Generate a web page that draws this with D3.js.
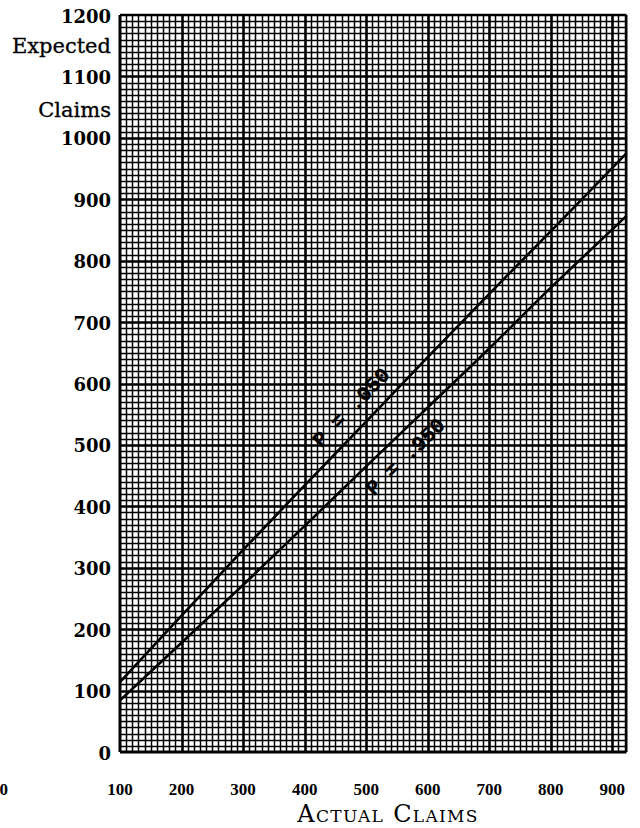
<!DOCTYPE html>
<html>
<head>
<meta charset="utf-8">
<script src="https://cdn.jsdelivr.net/npm/d3@7"></script>
<style>
  html, body { margin: 0; padding: 0; background: #fff; }
  svg { display: block; }
</style>
</head>
<body>
<div id="chart"></div>
<script>
// values
const actualClaims = [100, 200, 300, 400, 500, 600, 700, 800, 900, 923];
const expectedP050 = [114, 222, 329, 434, 538, 643, 746, 848, 951, 975];
const expectedP950 = [84, 178, 272, 368, 465, 561, 657, 756, 851, 873];
const xTicks = [100, 200, 300, 400, 500, 600, 700, 800, 900];
const yTicks = [0, 100, 200, 300, 400, 500, 600, 700, 800, 900, 1000, 1100, 1200];
const lineLabels = ['P = .050', 'P = .950'];
const labelStart = [443, 482];

const width = 640, height = 828;
const svg = d3.select('#chart').append('svg')
  .attr('width', width)
  .attr('height', height);

const x = d3.scaleLinear().domain([100, 923]).range([120, 626.5]);
const y = d3.scaleLinear().domain([0, 1200]).range([752, 15]);

// graph paper
const grid = svg.append('g').attr('stroke', '#000');
const gw = v => v % 100 === 0 ? 2.6 : 1.5;
const snap = v => Math.round(v) + 0.5;

grid.selectAll('line.v')
  .data(d3.range(110, 921, 10))
  .join('line')
  .attr('x1', d => snap(x(d))).attr('x2', d => snap(x(d)))
  .attr('y1', y(0)).attr('y2', y(1200))
  .attr('stroke-width', gw);

grid.selectAll('line.h')
  .data(d3.range(10, 1200, 10))
  .join('line')
  .attr('x1', x(100)).attr('x2', x(923))
  .attr('y1', d => snap(y(d))).attr('y2', d => snap(y(d)))
  .attr('stroke-width', gw);

// frame
svg.append('line').attr('x1', x(100)).attr('x2', x(100)).attr('y1', y(0)).attr('y2', y(1200))
  .attr('stroke', '#000').attr('stroke-width', 3);
svg.append('line').attr('x1', x(100)).attr('x2', x(923)).attr('y1', y(0)).attr('y2', y(0))
  .attr('stroke', '#000').attr('stroke-width', 3);
svg.append('line').attr('x1', x(100)).attr('x2', x(923)).attr('y1', y(1200)).attr('y2', y(1200))
  .attr('stroke', '#000').attr('stroke-width', 2.5);
svg.append('line').attr('x1', x(923)).attr('x2', x(923)).attr('y1', y(0)).attr('y2', y(1200))
  .attr('stroke', '#000').attr('stroke-width', 2);

// the two P lines
const series = [expectedP050, expectedP950];
const line = d3.line()
  .x((d, i) => x(actualClaims[i]))
  .y(d => y(d))
  .curve(d3.curveMonotoneX);

svg.selectAll('path.p')
  .data(series)
  .join('path')
  .attr('fill', 'none')
  .attr('stroke', '#000')
  .attr('stroke-width', 2.6)
  .attr('d', line);

// labels along the lines
const bis = d3.bisector(d => d).left;
function along(vals, a) {
  const i = Math.max(1, bis(actualClaims, a));
  const a0 = actualClaims[i - 1], a1 = actualClaims[i];
  const t = (a - a0) / (a1 - a0);
  const px = x(a), py = y(vals[i - 1] + t * (vals[i] - vals[i - 1]));
  const ang = Math.atan2(y(vals[i]) - y(vals[i - 1]), x(a1) - x(a0)) * 180 / Math.PI;
  return [px, py, ang];
}
const labelDy = [-14, 27];
const mono = '"Liberation Mono", "DejaVu Sans Mono", monospace';
series.forEach((vals, k) => {
  const [px, py, ang] = along(vals, labelStart[k]);
  svg.append('text')
    .attr('transform', `translate(${px},${py}) rotate(${ang})`)
    .attr('dy', labelDy[k])
    .attr('font-family', mono)
    .attr('font-weight', 'bold')
    .attr('font-size', 21)
    .attr('fill', '#000')
    .attr('stroke', '#000')
    .attr('stroke-width', 0.4)
    .text(lineLabels[k]);
});

// y axis labels
const serif = '"DejaVu Serif", "Liberation Serif", serif';
svg.append('g').selectAll('text')
  .data(yTicks)
  .join('text')
  .attr('x', 111)
  .attr('y', d => y(d) + 1)
  .attr('dominant-baseline', 'central')
  .attr('text-anchor', 'end')
  .attr('font-family', serif)
  .attr('font-weight', 'bold')
  .attr('font-size', 18)
  .text(d => d);

svg.append('text')
  .attr('x', 111).attr('y', y(1150))
  .attr('dominant-baseline', 'central')
  .attr('text-anchor', 'end')
  .attr('font-family', serif)
  .attr('font-size', 21)
  .attr('stroke', '#000').attr('stroke-width', 0.3)
  .text('Expected');
svg.append('text')
  .attr('x', 111).attr('y', y(1045))
  .attr('dominant-baseline', 'central')
  .attr('text-anchor', 'end')
  .attr('font-family', serif)
  .attr('font-size', 21)
  .attr('stroke', '#000').attr('stroke-width', 0.3)
  .text('Claims');

// x axis labels
svg.append('g').selectAll('text')
  .data(xTicks)
  .join('text')
  .attr('x', d => x(d))
  .attr('y', 789)
  .attr('dominant-baseline', 'central')
  .attr('text-anchor', 'middle')
  .attr('font-family', '"Liberation Serif", serif')
  .attr('font-weight', 'bold')
  .attr('font-size', 17)
  .text(d => d);

// stray label cut off at the page edge
svg.append('text')
  .attr('x', 8).attr('y', 789)
  .attr('dominant-baseline', 'central')
  .attr('text-anchor', 'end')
  .attr('font-family', '"Liberation Serif", serif')
  .attr('font-weight', 'bold')
  .attr('font-size', 17)
  .text('0');

svg.append('text')
  .attr('x', 388).attr('y', 822)
  .attr('text-anchor', 'middle')
  .attr('font-family', serif)
  .attr('font-size', 24)
  .attr('letter-spacing', 1.3)
  .style('font-variant', 'small-caps')
  .text('Actual Claims');
</script>
</body>
</html>
